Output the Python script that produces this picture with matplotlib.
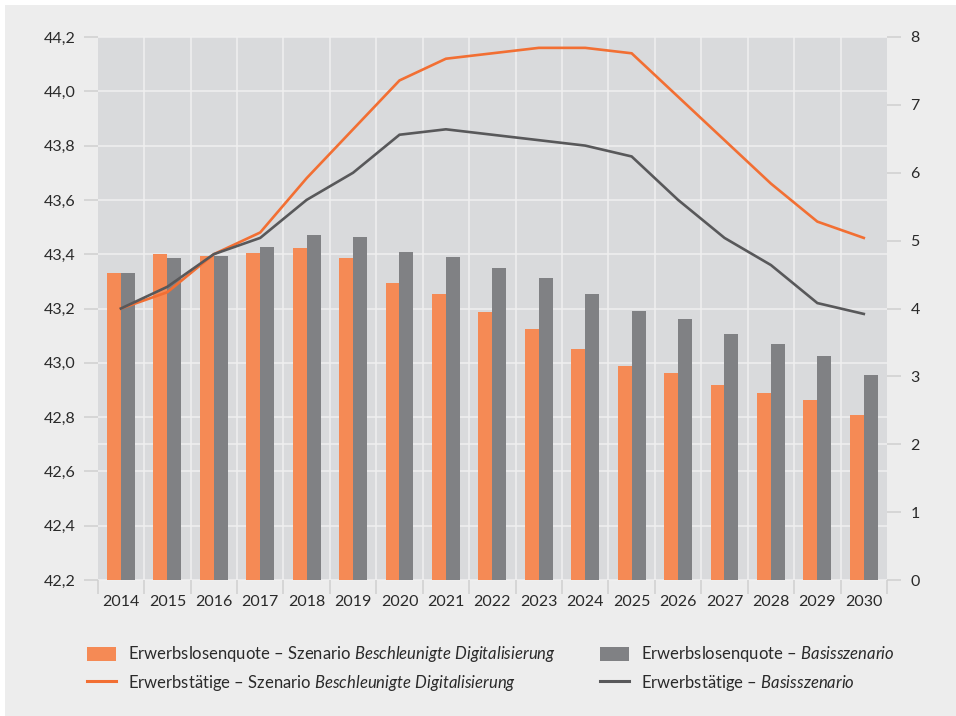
import matplotlib
matplotlib.use("Agg")
import matplotlib.pyplot as plt
import matplotlib.transforms as mtransforms
from matplotlib.patches import Patch, Rectangle
from matplotlib.lines import Line2D
from matplotlib.ticker import FuncFormatter, FixedLocator

plt.rcParams['font.family'] = ['Lato', 'DejaVu Sans']
plt.rcParams['mathtext.fontset'] = 'custom'
plt.rcParams['mathtext.rm'] = 'Lato'
plt.rcParams['mathtext.it'] = 'Lato:italic'

years = [str(y) for y in range(2014, 2031)]

# Erwerbslosenquote (right axis, %)
quote_digital = [4.52, 4.80, 4.77, 4.82, 4.89, 4.74, 4.38, 4.21, 3.95, 3.70,
                 3.40, 3.15, 3.05, 2.87, 2.76, 2.65, 2.43]
quote_basis = [4.52, 4.74, 4.77, 4.91, 5.08, 5.05, 4.83, 4.76, 4.60, 4.45,
               4.21, 3.96, 3.85, 3.62, 3.48, 3.30, 3.02]

# Erwerbstätige (left axis, Mio.)
erw_digital = [43.20, 43.26, 43.40, 43.48, 43.68, 43.86, 44.04, 44.12, 44.14, 44.16,
               44.16, 44.14, 43.98, 43.82, 43.66, 43.52, 43.46]
erw_basis = [43.20, 43.28, 43.40, 43.46, 43.60, 43.70, 43.84, 43.86, 43.84, 43.82,
             43.80, 43.76, 43.60, 43.46, 43.36, 43.22, 43.18]

left_ticks = [42.2, 42.4, 42.6, 42.8, 43.0, 43.2, 43.4, 43.6, 43.8, 44.0, 44.2]
right_ticks = [0, 1, 2, 3, 4, 5, 6, 7, 8]

labels = [
    r"Erwerbslosenquote – Szenario $\it{Beschleunigte\ Digitalisierung}$",
    r"Erwerbstätige – Szenario $\it{Beschleunigte\ Digitalisierung}$",
    r"Erwerbslosenquote – $\it{Basisszenario}$",
    r"Erwerbstätige – $\it{Basisszenario}$",
]

c_bar_o = '#f58a55'
c_bar_g = '#808184'
c_line_o = '#f26f33'
c_line_g = '#58585a'
c_plot_bg = '#d9dadc'
c_panel = '#ededed'
c_grid = '#f0f0f0'
c_tick = '#cfcfcf'
c_text = '#2a2a2a'

W, H = 956, 716
fig = plt.figure(figsize=(W / 100, H / 100), dpi=100, facecolor='white')
fig.patches.append(Rectangle((5 / W, 0), 1 - 5 / W, 1 - 5 / H, transform=fig.transFigure,
                             facecolor=c_panel, edgecolor='none', zorder=-10))

ax = fig.add_axes([97.7 / W, 1 - 580 / H, (887 - 97.7) / W, (580 - 37) / H])
ax2 = ax.twinx()

ax.set_facecolor(c_plot_bg)
ax2.patch.set_visible(False)

x = list(range(len(years)))
bw = 0.3
ax.bar([i - bw / 2 for i in x], quote_digital, width=bw, color=c_bar_o, zorder=3)
ax.bar([i + bw / 2 for i in x], quote_basis, width=bw, color=c_bar_g, zorder=3)
ax.set_ylim(0, 8)
ax.set_xlim(-0.5, len(years) - 0.5)

ax2.plot(x, erw_digital, color=c_line_o, lw=1.9, solid_joinstyle='miter', zorder=4)
ax2.plot(x, erw_basis, color=c_line_g, lw=1.9, solid_joinstyle='miter', zorder=4)
ax2.set_ylim(42.2, 44.2)

# grid: horizontal at left-axis ticks, vertical at category boundaries
trans = mtransforms.blended_transform_factory(ax.transAxes, ax2.transData)
for v in left_ticks:
    ax.plot([0, 1], [v, v], transform=trans, color=c_grid, lw=1.1, zorder=1, clip_on=False)
ax.axhline(2, color=c_grid, lw=1.1, zorder=1)
bounds = [i + 0.5 for i in x[:-1]]
for b in bounds:
    ax.axvline(b, color=c_grid, lw=1.1, zorder=1)

# ticks
ax.set_xticks(x)
ax.set_xticklabels(years)
ax.xaxis.set_minor_locator(FixedLocator([-0.5] + bounds + [len(years) - 0.5]))
ax.tick_params(axis='x', which='major', length=0, pad=10.5, labelsize=11.5, colors=c_text)
ax.tick_params(axis='x', which='minor', length=10, width=1.1, color=c_tick)

ax.yaxis.tick_right()
ax.set_yticks(right_ticks)
ax.tick_params(axis='y', length=10, width=1.1, color=c_tick, pad=7, labelsize=11.5,
               labelcolor=c_text, right=True, left=False, labelright=True, labelleft=False)

ax2.yaxis.tick_left()
ax2.set_yticks(left_ticks)
ax2.yaxis.set_major_formatter(FuncFormatter(lambda v, p: f"{v:.1f}".replace('.', ',')))
ax2.tick_params(axis='y', length=10, width=1.1, color=c_tick, pad=6, labelsize=11.5,
                labelcolor=c_text, left=True, right=False, labelleft=True, labelright=False)

for a in (ax, ax2):
    for s in a.spines.values():
        s.set_visible(False)

# legends
h_bo = Patch(facecolor=c_bar_o, edgecolor='none')
h_lo = Line2D([], [], color=c_line_o, lw=2.2)
h_bg = Patch(facecolor=c_bar_g, edgecolor='none')
h_lg = Line2D([], [], color=c_line_g, lw=2.2)

common = dict(loc='center left', frameon=False, borderpad=0, borderaxespad=0,
              handlelength=1.75, handleheight=0.9, handletextpad=0.7,
              labelspacing=0.5, prop={'size': 12}, labelcolor=c_text)
fig.legend([h_bo, h_lo], labels[:2], bbox_to_anchor=(87 / W, 1 - 668.5 / H), **common)
fig.legend([h_bg, h_lg], labels[2:], bbox_to_anchor=(600 / W, 1 - 668.5 / H), **common)

fig.savefig('out.png', dpi=100, facecolor='white')
